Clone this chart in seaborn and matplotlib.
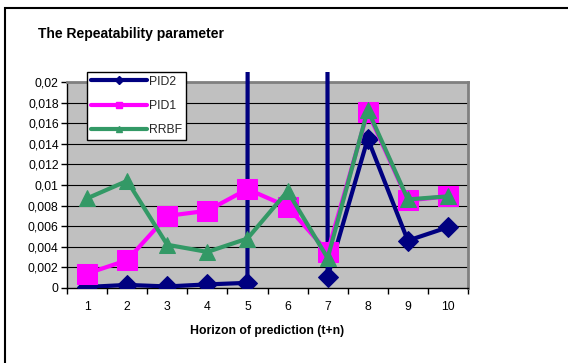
import matplotlib
matplotlib.use("Agg")
import matplotlib.pyplot as plt
from matplotlib.patches import Rectangle
from matplotlib.lines import Line2D
import numpy as np
import pandas as pd
import seaborn as sns

# ---- data ----
horizon = [1, 2, 3, 4, 5, 6, 7, 8, 9, 10]
pid2 = [0.0001, 0.0003, 0.00015, 0.00035, 0.0005, 5.0, 0.0011, 0.0145, 0.0046, 0.0059]
pid1 = [0.0014, 0.0027, 0.0070, 0.0075, 0.0096, 0.0079, 0.0035, 0.0171, 0.0085, 0.0089]
rrbf = [0.0087, 0.0104, 0.0042, 0.0035, 0.0048, 0.0094, 0.0029, 0.0173, 0.0086, 0.0089]
series_names = ["PID2", "PID1", "RRBF"]
y_ticks = [0, 0.002, 0.004, 0.006, 0.008, 0.01, 0.012, 0.014, 0.016, 0.018, 0.02]
y_tick_labels = ["0", "0,002", "0,004", "0,006", "0,008", "0,01", "0,012",
                 "0,014", "0,016", "0,018", "0,02"]
title = "The Repeatability parameter"
x_label = "Horizon of prediction (t+n)"

df = pd.DataFrame({
    "h": horizon * 3,
    "v": pid2 + pid1 + rrbf,
    "s": ["PID2"] * 10 + ["PID1"] * 10 + ["RRBF"] * 10,
})

sns.set_theme(style="white")
plt.rcParams["font.family"] = ["Liberation Sans", "DejaVu Sans"]

W, H = 568, 363
fig = plt.figure(figsize=(W / 100, H / 100), dpi=100)
fig.patch.set_facecolor("white")
ax = fig.add_axes([67 / W, 1 - 288 / H, (468 - 67) / W, (288 - 82) / H])
ax.set_facecolor("#C0C0C0")

colors = {"PID2": "#000080", "PID1": "#FF00FF", "RRBF": "#339966"}
markers = {"PID2": "D", "PID1": "s", "RRBF": "^"}
msizes = {"PID2": 10.5, "PID1": 14, "RRBF": 12}

for i, name in enumerate(series_names):
    sub = df[df["s"] == name]
    sns.lineplot(data=sub, x="h", y="v", ax=ax, color=colors[name],
                 marker=markers[name], markersize=msizes[name],
                 markeredgecolor=colors[name], linewidth=3.0,
                 legend=False, zorder=3 + i, sort=False)

# allow lines to extend slightly above the plot area (as in the original)
clip = Rectangle((0, 0), 1, 1 + 10 / 206, transform=ax.transAxes)
for ln in ax.lines:
    ln.set_clip_path(clip)

ax.set_xlim(0.5, 10.5)
ax.set_ylim(0, 0.02)

ax.set_yticks(y_ticks)
ax.set_yticklabels(y_tick_labels)
for y in y_ticks[1:]:
    ax.axhline(y, color="black", linewidth=0.8, zorder=1)

ax.set_xticks(np.arange(0.5, 11, 1))
ax.set_xticklabels([])
ax.set_xticks(horizon, minor=True)
ax.set_xticklabels([str(h) for h in horizon], minor=True)
ax.tick_params(axis="x", which="major", direction="out", length=4, width=1,
               color="black", bottom=True)
ax.tick_params(axis="x", which="minor", length=0, labelsize=8.8, pad=9,
               labelcolor="black")
ax.tick_params(axis="y", direction="out", length=4, width=1, color="black",
               left=True, labelsize=8.8, pad=2, labelcolor="black")

for side in ["top", "right"]:
    ax.spines[side].set_color("#808080")
    ax.spines[side].set_linewidth(2)
for side in ["left", "bottom"]:
    ax.spines[side].set_color("black")
    ax.spines[side].set_linewidth(1)
ax.set_xlabel(x_label, fontsize=8.8, fontweight="bold", labelpad=9, color="black")
ax.set_ylabel("")

fig.text(38 / W, 1 - 34 / H, title, fontsize=10, fontweight="bold",
         va="center", ha="left", color="black")

# outer chart frame (cropped at right/bottom)
fig.patches.append(Rectangle((5 / W, -0.5), 2, 1 - 8 / H + 0.5,
                             transform=fig.transFigure, fill=False,
                             edgecolor="black", linewidth=1.5))

handles = [Line2D([0], [0], color=colors[n], marker=markers[n],
                  markersize=4, linewidth=3.0) for n in series_names]
leg = fig.legend(handles, series_names, loc="upper left",
                 bbox_to_anchor=(87 / W, 1 - 72 / H), borderaxespad=0,
                 fontsize=8.8, frameon=True, fancybox=False, framealpha=1,
                 edgecolor="black", handlelength=4.6, handletextpad=0.15,
                 labelspacing=1.0, borderpad=0.3)
leg.get_frame().set_linewidth(1)
leg.set_zorder(20)

fig.savefig("out.png", dpi=100)
